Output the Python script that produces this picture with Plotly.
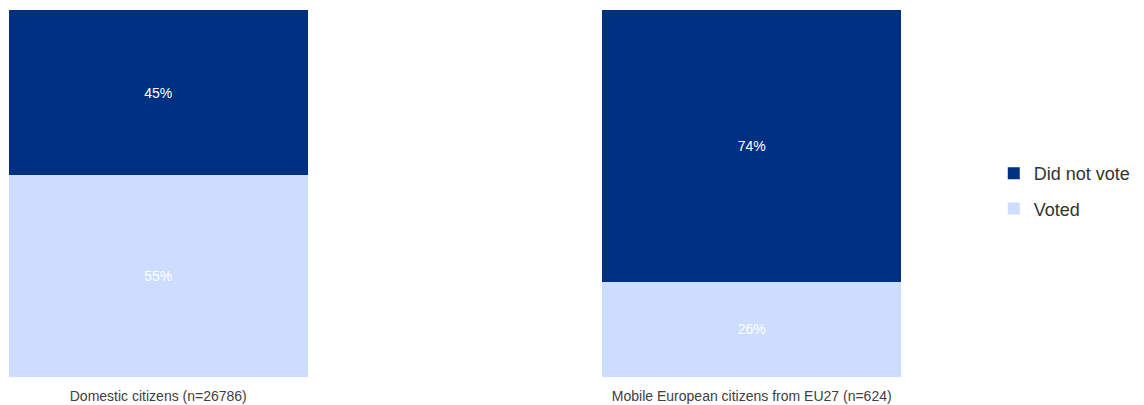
import plotly.graph_objects as go

categories = ["Domestic citizens (n=26786)", "Mobile European citizens from EU27 (n=624)"]
voted = [55, 26]
did_not_vote = [45, 74]

DARK = "#003082"
LIGHT = "#CCDDFF"
BAR_W = 0.503
FONT = "Liberation Sans, Arial"
xs = list(range(len(categories)))

fig = go.Figure()
fig.add_trace(go.Bar(
    x=xs, y=voted, name="Voted", width=BAR_W,
    marker=dict(color=LIGHT, line=dict(width=0)),
    text=[f"{v}%" for v in voted], textposition="inside",
    insidetextanchor="middle",
    textfont=dict(color="#FFFFFF", size=14, family=FONT),
    legendgroup="v", legendrank=2,
))
fig.add_trace(go.Bar(
    x=xs, y=did_not_vote, name="Did not vote", width=BAR_W,
    marker=dict(color=DARK, line=dict(width=0)),
    text=[f"{v}%" for v in did_not_vote], textposition="inside",
    insidetextanchor="middle",
    textfont=dict(color="#FFFFFF", size=14, family=FONT),
    legendgroup="d", legendrank=1,
))

fig.update_layout(
    barmode="stack",
    width=1144, height=405,
    margin=dict(l=9, r=243, t=10, b=28, autoexpand=False),
    paper_bgcolor="white", plot_bgcolor="white",
    font=dict(family=FONT, color="#404040"),
    xaxis=dict(
        range=[-BAR_W / 2, len(categories) - 1 + BAR_W / 2],
        tickvals=xs, ticktext=categories,
        tickfont=dict(size=14, color="#404040"),
        ticklabelstandoff=9, automargin=False,
        showgrid=False, zeroline=False, showline=False, ticks="",
        fixedrange=True,
    ),
    yaxis=dict(range=[0, 100], visible=False, fixedrange=True),
    legend=dict(
        x=1.104, y=0.507, xanchor="left", yanchor="middle",
        traceorder="grouped", tracegroupgap=9,
        font=dict(size=18, color="#333333"),
        itemwidth=30,
    ),
)

fig.write_html("out.html")
